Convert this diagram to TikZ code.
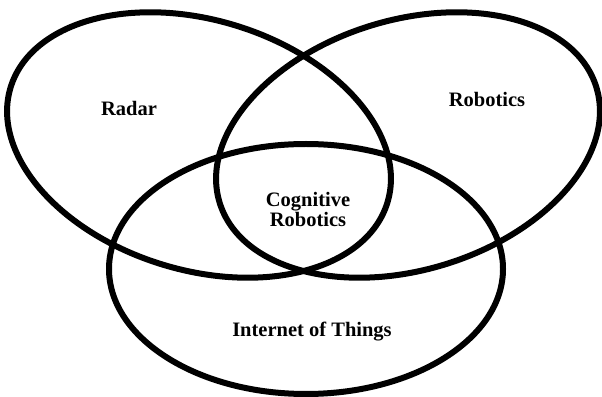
\documentclass[tikz,border=0pt]{standalone}
\usepackage{fontspec}
\setmainfont{Liberation Serif}
\usetikzlibrary{shapes.geometric}
\tikzset{
  set/.style   = { ellipse, draw=black, line width=6pt,
                   minimum width=394pt, minimum height=250pt, inner sep=0pt },
  label/.style = { font=\bfseries\fontsize{20.5}{20}\selectfont,
                   anchor=base, align=center, inner sep=0pt },
}

\begin{document}
\begin{tikzpicture}[x=1pt, y=1pt]
  \useasboundingbox (0,0) rectangle (602,396);
  % the three sets
  \node (radar)    [set, rotate=-17] at (199,251) {};
  \node (robotics) [set, rotate=17]  at (408,251) {};
  \node (iot)      [set]             at (306,127) {};
  % set names
  \node (radarlbl)    [label] at (129,280) {Radar};
  \node (roboticslbl) [label] at (487,289) {Robotics};
  \node (cognitive)   [label] at (308,169) {Cognitive\\Robotics};
  \node (iotlbl)      [label] at (312,59)  {Internet of Things};
\end{tikzpicture}
\end{document}
